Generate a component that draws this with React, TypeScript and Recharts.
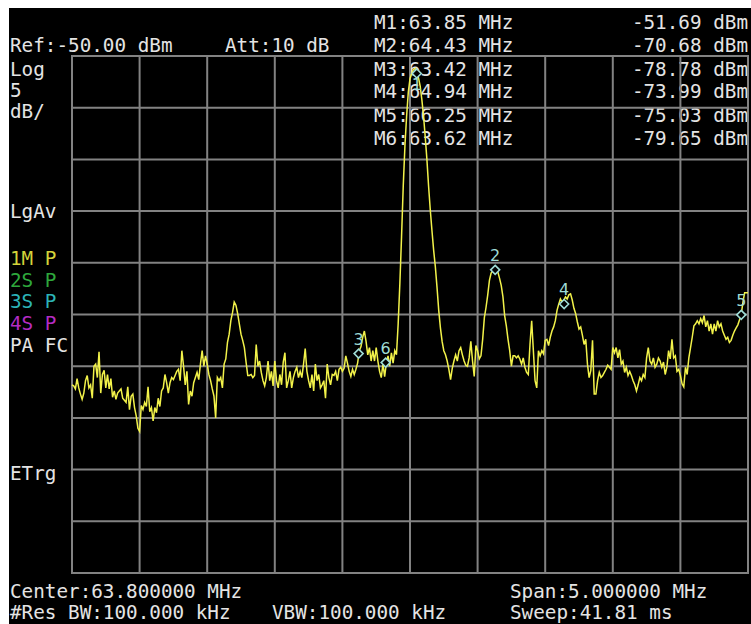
import { ComposedChart, Line, Scatter, XAxis, YAxis, CartesianGrid, ReferenceArea } from 'recharts';

// sweep settings
const startMHz = 61.3;
const stopMHz = 66.3;
const freqTicks = [61.3, 61.8, 62.3, 62.8, 63.3, 63.8, 64.3, 64.8, 65.3, 65.8, 66.3];
const levelTicks = [-100, -95, -90, -85, -80, -75, -70, -65, -60, -55, -50];

// 401-point trace, dBm, one block per division
const traceDbm = [
  // 61.3 - 61.8
  -81.8, -81.9, -82.2, -81.2, -82.1, -82.7, -83.2, -82.6, -81.4, -80.9,
  -82.1, -81.8, -83.1, -80.0, -79.8, -81.1, -78.6, -82.6, -80.8, -80.4,
  -82.1, -80.8, -82.2, -81.2, -83.0, -82.4, -83.2, -82.6, -82.4, -82.2,
  -83.1, -83.3, -83.5, -82.0, -84.2, -82.9, -82.7, -84.0, -84.8, -86.0,
  // 61.8 - 62.3
  -86.3, -83.8, -84.2, -83.5, -83.9, -82.0, -84.4, -84.0, -85.3, -84.0,
  -84.5, -83.1, -83.9, -82.4, -82.1, -80.8, -81.6, -82.6, -81.6, -81.1,
  -81.3, -80.9, -80.5, -80.3, -81.4, -78.5, -80.0, -81.8, -80.5, -83.7,
  -82.4, -82.9, -81.6, -81.1, -80.6, -81.3, -79.8, -78.5, -80.0, -79.0,
  // 62.3 - 62.8
  -79.8, -80.8, -81.4, -82.2, -82.9, -85.0, -81.1, -81.4, -81.1, -82.1,
  -79.8, -79.3, -77.7, -76.9, -75.6, -74.8, -73.8, -74.1, -74.9, -75.9,
  -76.9, -77.5, -78.2, -79.6, -80.9, -80.9, -80.8, -81.1, -80.9, -77.9,
  -80.0, -79.5, -80.6, -81.4, -81.9, -81.1, -79.5, -81.4, -80.5, -81.9,
  // 62.8 - 63.3
  -79.5, -81.4, -82.1, -80.8, -81.8, -79.6, -78.7, -82.1, -81.4, -80.5,
  -82.1, -81.1, -80.5, -80.1, -81.1, -80.5, -81.1, -79.8, -78.3, -80.5,
  -81.4, -82.1, -80.8, -82.4, -79.8, -81.4, -80.8, -82.1, -81.8, -81.4,
  -83.1, -79.8, -81.1, -81.8, -80.8, -80.9, -80.5, -81.4, -80.3, -80.1,
  // 63.3 - 63.8
  -80.5, -80.2, -79.0, -79.7, -80.5, -81.0, -80.3, -80.8, -80.3, -79.7,
  -78.5, -78.1, -77.2, -76.6, -77.6, -78.9, -78.2, -79.5, -78.5, -79.5,
  -78.2, -79.5, -80.5, -81.1, -79.8, -81.0, -79.7, -79.0, -80.0, -78.7,
  -79.7, -78.5, -78.9, -75.9, -72.0, -67.5, -62.6, -58.7, -55.8, -53.5,
  // 63.8 - 64.3
  -52.2, -51.7, -51.3, -51.2, -51.7, -52.1, -52.9, -54.2, -55.8, -57.8,
  -60.0, -62.6, -64.9, -66.9, -68.8, -70.4, -72.4, -74.6, -76.3, -77.6,
  -78.5, -78.9, -79.5, -80.3, -81.3, -80.2, -79.5, -78.9, -79.5, -78.5,
  -78.2, -78.9, -79.5, -79.9, -80.0, -79.2, -77.6, -79.5, -81.0, -78.0,
  // 64.3 - 64.8
  -78.5, -79.3, -79.0, -77.4, -75.3, -74.3, -73.1, -71.7, -71.0, -70.8,
  -70.5, -70.4, -70.9, -71.5, -72.2, -73.3, -75.1, -76.1, -77.4, -78.5,
  -80.0, -79.0, -79.0, -79.2, -79.0, -79.3, -79.8, -79.2, -80.1, -80.6,
  -80.8, -77.9, -75.6, -78.5, -81.4, -82.1, -78.5, -79.0, -78.5, -78.8,
  // 64.8 - 65.3
  -77.5, -77.4, -78.0, -77.2, -76.6, -76.2, -75.6, -74.6, -74.0, -73.5,
  -73.8, -73.6, -73.3, -73.5, -73.1, -73.0, -73.6, -74.4, -74.9, -75.7,
  -76.4, -76.2, -77.0, -77.9, -77.4, -79.8, -81.1, -80.4, -77.5, -82.7,
  -82.7, -81.4, -80.6, -81.1, -80.9, -80.6, -80.3, -79.9, -80.1, -80.3,
  // 65.3 - 65.8
  -78.2, -78.7, -78.2, -79.2, -78.4, -79.8, -79.5, -80.6, -80.1, -80.9,
  -80.5, -80.9, -81.4, -81.8, -82.4, -81.8, -81.1, -81.4, -80.8, -81.1,
  -79.2, -78.2, -79.5, -79.8, -79.2, -80.1, -79.8, -79.2, -79.5, -80.1,
  -79.6, -80.8, -80.1, -78.5, -79.3, -77.4, -79.2, -79.0, -80.5, -80.3,
  // 65.8 - 66.3
  -80.9, -81.7, -82.0, -80.1, -80.8, -79.2, -78.2, -77.2, -76.1, -75.9,
  -75.6, -75.9, -75.4, -75.8, -75.1, -76.2, -75.6, -76.6, -75.9, -76.9,
  -75.9, -76.6, -75.6, -76.2, -75.9, -76.6, -77.0, -77.4, -77.2, -77.7,
  -77.5, -77.0, -76.6, -76.3, -76.0, -75.5, -75.0, -73.8, -72.9, -72.9,
  -72.9,
];

// markers
const markerIds = ['1', '2', '3', '4', '5', '6'];
const markerMHz = [63.85, 64.43, 63.42, 64.94, 66.25, 63.62];
const markerDbm = [-51.69, -70.68, -78.78, -73.99, -75.03, -79.65];

// annotation texts
const refText = 'Ref:-50.00 dBm';
const attText = 'Att:10 dB';
const scaleTexts = ['Log', '5', 'dB/'];
const detectorText = 'LgAv';
const traceModes = ['1M P', '2S P', '3S P', '4S P'];
const afcText = 'PA FC';
const trigText = 'ETrg';
const centerText = 'Center:63.800000 MHz';
const spanText = 'Span:5.000000 MHz';
const rbwText = '#Res BW:100.000 kHz';
const vbwText = 'VBW:100.000 kHz';
const sweepText = 'Sweep:41.81 ms';

const traceData = traceDbm.map((dbm, i) => ({
  mhz: startMHz + (i * (stopMHz - startMHz)) / (traceDbm.length - 1),
  dbm,
}));

const markerData = markerIds.map((name, i) => ({ name, mhz: markerMHz[i], dbm: markerDbm[i] }));

const FONT = '"DejaVu Sans Mono", monospace';
const TXT = '#e4e4e4';
const MK = '#9fdcd6';
const modeColors = ['#d4d43a', '#2ea83c', '#2cb4b8', '#b42cc4'];

const MarkerShape = (props: any) => {
  const { cx, cy, payload } = props;
  const below = cy < 120;
  const r = 4.5;
  return (
    <g>
      <polygon
        points={`${cx},${cy - r} ${cx + r},${cy} ${cx},${cy + r} ${cx - r},${cy}`}
        fill="#000"
        stroke={MK}
        strokeWidth={1.6}
      />
      <text
        x={cx}
        y={below ? cy + 17 : cy - 9}
        textAnchor="middle"
        fill={MK}
        fontSize={16}
        fontFamily='"DejaVu Sans", sans-serif'
      >
        {payload.name}
      </text>
    </g>
  );
};

export default function App() {
  const mRowsY = [29, 52, 76, 98, 122, 145];
  return (
    <div style={{ position: 'relative', width: 751, height: 624, background: '#fff', overflow: 'hidden' }}>
      <style>{'body{margin:0;overflow:hidden}'}</style>
      <div style={{ position: 'absolute', left: 9, top: 8, width: 742, height: 616, background: '#000' }} />
      <svg
        width={751}
        height={624}
        style={{ position: 'absolute', left: 0, top: 0 }}
        fontFamily={FONT}
        fontSize={19.3}
      >
        <text x={10} y={52} fill={TXT}>{refText}</text>
        <text x={225} y={52} fill={TXT}>{attText}</text>
        {scaleTexts.map((t, i) => (
          <text key={t} x={10} y={[76, 97, 118][i]} fill={TXT}>{t}</text>
        ))}
        <text x={10} y={218} fill={TXT}>{detectorText}</text>
        {traceModes.map((t, i) => (
          <text key={t} x={10} y={265 + i * 21.7} fill={modeColors[i]}>{t}</text>
        ))}
        <text x={10} y={352} fill={TXT}>{afcText}</text>
        <text x={10} y={480} fill={TXT}>{trigText}</text>
        {markerData.map((m, i) => (
          <g key={m.name}>
            <text x={374} y={mRowsY[i]} fill={TXT}>{`M${m.name}:${m.mhz.toFixed(2)} MHz`}</text>
            <text x={748} y={mRowsY[i]} fill={TXT} textAnchor="end">{`${m.dbm.toFixed(2)} dBm`}</text>
          </g>
        ))}
        <text x={10} y={598} fill={TXT}>{centerText}</text>
        <text x={510} y={598} fill={TXT}>{spanText}</text>
        <text x={10} y={619} fill={TXT}>{rbwText}</text>
        <text x={272} y={619} fill={TXT}>{vbwText}</text>
        <text x={510} y={619} fill={TXT}>{sweepText}</text>
      </svg>
      <div style={{ position: 'absolute', left: 0, top: 0 }}>
        <ComposedChart
          width={751}
          height={624}
          data={traceData}
          margin={{ top: 56, right: 3, bottom: 51, left: 72 }}
        >
          <XAxis dataKey="mhz" type="number" domain={[startMHz, stopMHz]} ticks={freqTicks} hide />
          <YAxis type="number" domain={[-100, -50]} ticks={levelTicks} hide />
          <CartesianGrid stroke="#828282" strokeWidth={2} />
          <ReferenceArea
            x1={startMHz}
            x2={stopMHz}
            y1={-100}
            y2={-50}
            fill="none"
            fillOpacity={0}
            stroke="#828282"
            strokeWidth={2}
          />
          <Line
            type="linear"
            dataKey="dbm"
            stroke="#f2f24a"
            strokeWidth={1.5}
            dot={false}
            isAnimationActive={false}
          />
          <Scatter data={markerData} dataKey="dbm" shape={MarkerShape} isAnimationActive={false} />
        </ComposedChart>
      </div>
    </div>
  );
}
